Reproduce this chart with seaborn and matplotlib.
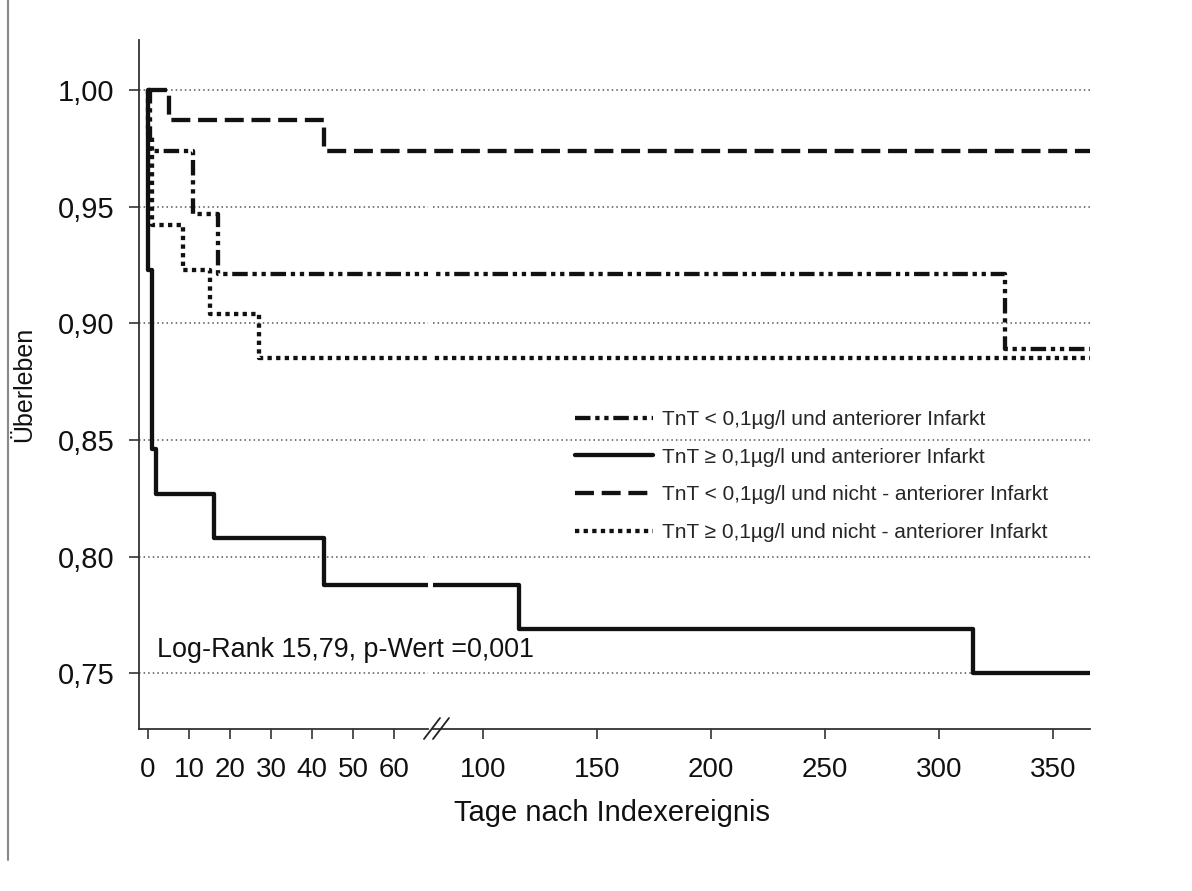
import matplotlib
matplotlib.use("Agg")
import matplotlib.pyplot as plt
from matplotlib.lines import Line2D
from matplotlib import font_manager
import seaborn as sns

# Kaplan-Meier Kurven (Tage nach Indexereignis, Überleben)
tage_lo_ant = [0, 0.5, 11, 17, 329, 366]
surv_lo_ant = [1.0, 0.974, 0.947, 0.921, 0.889, 0.889]

tage_hi_ant = [0, 0.1, 1, 2, 16, 43, 116, 315, 366]
surv_hi_ant = [1.0, 0.923, 0.846, 0.827, 0.808, 0.788, 0.769, 0.750, 0.750]

tage_lo_nant = [0, 5, 43, 366]
surv_lo_nant = [1.0, 0.987, 0.974, 0.974]

tage_hi_nant = [0, 0.1, 1, 8.5, 15, 27, 366]
surv_hi_nant = [1.0, 0.981, 0.942, 0.923, 0.904, 0.885, 0.885]

labels = ["TnT < 0,1µg/l und anteriorer Infarkt",
          "TnT ≥ 0,1µg/l und anteriorer Infarkt",
          "TnT < 0,1µg/l und nicht - anteriorer Infarkt",
          "TnT ≥ 0,1µg/l und nicht - anteriorer Infarkt"]

yticks = [0.75, 0.80, 0.85, 0.90, 0.95, 1.00]
ytick_labels = ["0,75", "0,80", "0,85", "0,90", "0,95", "1,00"]
xticks_links = [0, 10, 20, 30, 40, 50, 60]
xticks_rechts = [100, 150, 200, 250, 300, 350]

sns.set_style("ticks")
plt.rcParams['font.family'] = ['Liberation Sans', 'DejaVu Sans']

names = {f.name for f in font_manager.fontManager.ttflist}
if 'Liberation Sans Narrow' in names:
    leg_font = ['Liberation Sans Narrow', 'DejaVu Sans']
    leg_size = 17.5
else:
    leg_font = ['Liberation Sans', 'DejaVu Sans']
    leg_size = 15

fig = plt.figure(figsize=(11.92, 8.91), dpi=100)
W, H = 1192, 891
ax_l = fig.add_axes([139 / W, 1 - 729 / H, (428 - 139) / W, (729 - 40) / H])
ax_r = fig.add_axes([433 / W, 1 - 729 / H, (1090 - 433) / W, (729 - 40) / H])

# Linienstile: Strich-Punkt-Punkt, durchgezogen, gestrichelt, gepunktet
serien = [
    (tage_lo_ant, surv_lo_ant, (0, (3.6, 1.1, 1, 1.1, 1, 1.1))),
    (tage_hi_ant, surv_hi_ant, '-'),
    (tage_lo_nant, surv_lo_nant, (0, (4.4, 1.8))),
    (tage_hi_nant, surv_hi_nant, (0, (1, 1))),
]

for ax in (ax_l, ax_r):
    for (tage, surv, ls), lab in zip(serien, labels):
        sns.lineplot(x=tage, y=surv, ax=ax, color='#111111', linewidth=3.1,
                     linestyle=ls, drawstyle='steps-post', estimator=None,
                     label=lab if ax is ax_l else None, legend=False)
    ax.set_ylim(0.7262, 1.0214)
    ax.yaxis.grid(True, linestyle=(0, (1, 2)), color='#555555', linewidth=1.1)
    ax.set_axisbelow(True)
    ax.set_xlabel("")
    ax.set_ylabel("")
    for s in ['top', 'right']:
        ax.spines[s].set_visible(False)
    ax.spines['bottom'].set_color('#333333')
    ax.spines['bottom'].set_linewidth(1.3)
    ax.tick_params(axis='x', direction='out', length=7.5, width=1.2,
                   colors='#333333', labelcolor='#111111', labelsize=20, pad=12.5)

ax_l.set_xlim(-2.2, 68.3)
ax_l.set_xticks(xticks_links)
ax_l.set_yticks(yticks)
ax_l.set_yticklabels(ytick_labels)
ax_l.spines['left'].set_color('#333333')
ax_l.spines['left'].set_linewidth(1.3)
ax_l.tick_params(axis='y', direction='out', length=7.5, width=1.2,
                 colors='#333333', labelcolor='#111111', labelsize=21, pad=10)

ax_r.set_xlim(78.1, 366.2)
ax_r.set_xticks(xticks_rechts)
ax_r.spines['left'].set_visible(False)
ax_r.set_yticks(yticks)
ax_r.tick_params(axis='y', left=False, labelleft=False)

# Achsenbruch //
for dx in (0, 9):
    fig.add_artist(Line2D([(424 + dx) / W, (440 + dx) / W], [1 - 739 / H, 1 - 718 / H],
                          transform=fig.transFigure, color='#222222', lw=1.3))

# Legende
handles, labs = ax_l.get_legend_handles_labels()
fig.legend(handles, labs, loc='center left', bbox_to_anchor=(575 / W, 1 - 476 / H),
           frameon=False, borderpad=0, borderaxespad=0, handlelength=3.75,
           handletextpad=0.45, labelspacing=0.9, prop={'family': leg_font, 'size': leg_size})

fig.text(157 / W, 1 - 650 / H, "Log-Rank 15,79, p-Wert =0,001", fontsize=19.4,
         va='center', ha='left', color='#111111')
fig.text(612 / W, 1 - 813 / H, "Tage nach Indexereignis", fontsize=21,
         va='center', ha='center', color='#111111')
fig.text(24 / W, 1 - 384 / H, "Überleben", fontsize=18, rotation=90,
         va='center', ha='center', color='#111111')

# Seitenrand links
fig.add_artist(Line2D([8 / W, 8 / W], [1, 1 - 860 / H], transform=fig.transFigure,
                      color='#888888', lw=1.5))

fig.savefig("out.png", dpi=100)
